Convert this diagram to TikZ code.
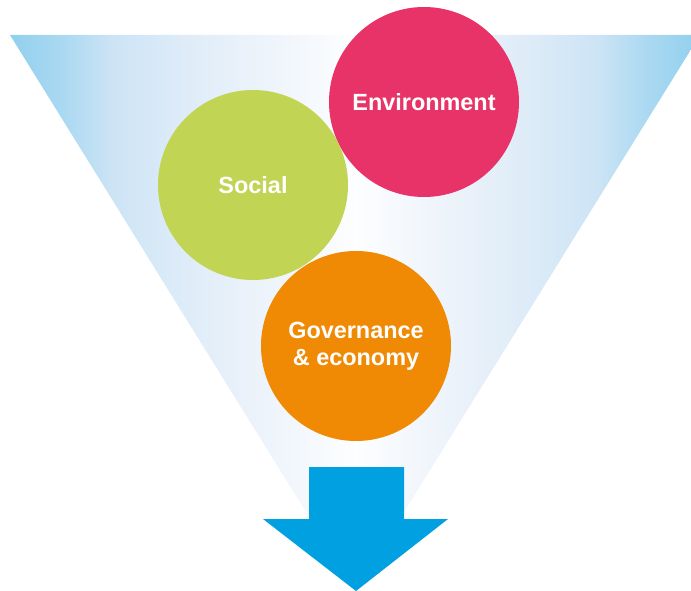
\documentclass[tikz,border=0pt]{standalone}
\usepackage{fontspec}
\setmainfont{Liberation Sans}
\definecolor{funnelblue}{RGB}{145,208,238}
\definecolor{funnelmid}{RGB}{205,228,245}
\definecolor{funnelpale}{RGB}{235,242,250}
\definecolor{envpink}{RGB}{232,51,104}
\definecolor{socgreen}{RGB}{194,212,84}
\definecolor{govorange}{RGB}{240,138,5}
\definecolor{arrowblue}{RGB}{0,160,225}
% the middle 50bp of the shading is fitted to the funnel
\pgfdeclarehorizontalshading{funnel}{100bp}{
    color(0bp)=(funnelblue); color(25bp)=(funnelblue);
    color(29bp)=(funnelblue!55!funnelmid); color(32.5bp)=(funnelmid);
    color(37.5bp)=(funnelmid!45!funnelpale); color(42.5bp)=(funnelpale);
    color(50bp)=(white!90!funnelpale); color(57.5bp)=(funnelpale);
    color(62.5bp)=(funnelmid!45!funnelpale); color(67.5bp)=(funnelmid);
    color(71bp)=(funnelblue!55!funnelmid); color(75bp)=(funnelblue);
    color(100bp)=(funnelblue)}
\begin{document}
\begin{tikzpicture}[x = 0.03cm, y = -0.03cm,
    bubble/.style = {circle, minimum size = 5.7cm, inner sep = 0pt, text = white,
        font = \fontsize{20}{23}\selectfont\bfseries, align = center}]
	\useasboundingbox (0, 0) rectangle (691, 591);
	\clip (0, 0) rectangle (691, 591);
	% funnel
	\shade [shading = funnel] (10, 35) -- (700, 35) -- (355, 591) -- cycle;
	% pillars
	\node [bubble, fill = envpink] (env) at (424, 102) {Environment};
	\node [bubble, fill = socgreen] (soc) at (253, 185) {Social};
	\node [bubble, fill = govorange] (gov) at (356, 346) {Governance\\\& economy};
	% outcome arrow
	\fill [arrowblue] (309, 467) -- (404, 467) -- (404, 519) -- (448, 519) -- (356, 591) -- (263, 519) -- (309, 519) -- cycle;
\end{tikzpicture}
\end{document}
